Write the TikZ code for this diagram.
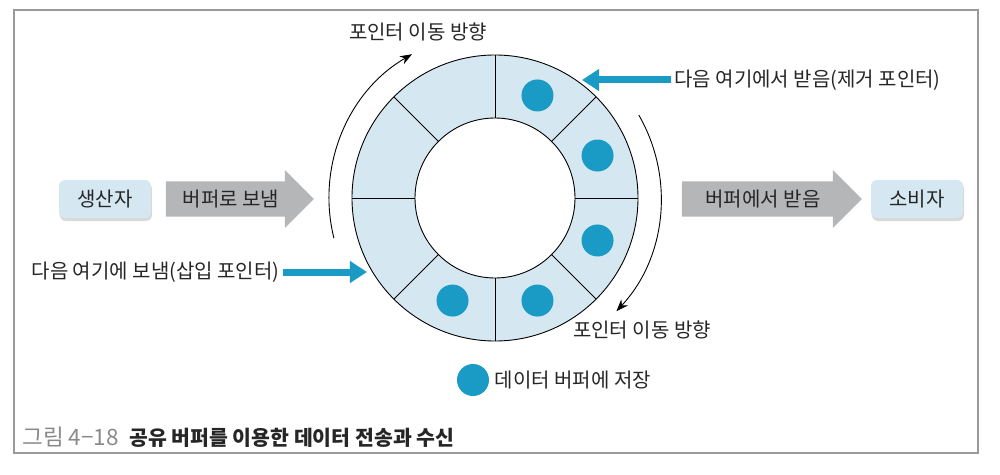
\documentclass[tikz,border=0pt]{standalone}
\usepackage{fontspec}
\setmainfont{Noto Sans CJK KR}
\usetikzlibrary{arrows.meta,shapes.arrows,shadows,positioning}

\definecolor{ringBlue}{HTML}{D5E7F1}
\definecolor{dotBlue}{HTML}{1A9BC5}
\definecolor{arrowGray}{HTML}{B5B6B8}
\definecolor{frameGray}{HTML}{9A9A9A}
\definecolor{capGray}{HTML}{8A8A8A}
\definecolor{textDark}{HTML}{262626}

\begin{document}
\begin{tikzpicture}[x=1pt, y=1pt,
    lbl/.style={text=textDark, font=\fontsize{20}{22}\selectfont},
    party/.style={lbl, rounded corners=6pt, fill=ringBlue, minimum width=92pt, minimum height=38pt,
                  drop shadow={opacity=0.3, shadow xshift=1pt, shadow yshift=-3pt}},
    flow/.style={lbl, single arrow, fill=arrowGray, minimum width=58pt,
                 single arrow head extend=8pt, single arrow head indent=0pt},
    datadot/.style={circle, fill=dotBlue, minimum size=32pt, inner sep=0pt},
    pointer/.style={draw=dotBlue, line width=7pt, -{Triangle[length=17pt,width=21pt]}},
    turn/.style={draw=black, line width=0.9pt, -{Stealth[length=12pt,width=9pt]}}
]

  % Define variables for better adjustability
  \def\outerR{143}   % outer radius of the ring buffer
  \def\innerR{80}    % inner radius of the ring buffer
  \def\midR{111}     % radius where the stored data sit
  \def\arcR{166}     % radius of the direction arcs

  \useasboundingbox (-495,-276) rectangle (505,198);
  \draw[frameGray, line width=1.2pt] (-481,188) rectangle (483,-255);

  % Ring buffer (8 slots)
  \coordinate (C) at (0,0);
  \fill[ringBlue, even odd rule] (C) circle (\outerR) (C) circle (\innerR);
  \draw[line width=0.9pt] (C) circle (\outerR) (C) circle (\innerR);
  \foreach \a in {0,45,...,315}
    \draw[line width=0.9pt] (\a:\innerR) -- (\a:\outerR);

  % Filled slots
  \foreach \a [count=\i] in {67.5,22.5,-22.5,-67.5,-112.5}
    \node[datadot] (d\i) at (\a:\midR) {};

  % Pointer direction arcs
  \draw[turn] (194:\arcR) arc[start angle=194, end angle=120, radius=\arcR];
  \draw[turn] (30:\arcR) arc[start angle=30, end angle=-43, radius=\arcR];
  \node[lbl] (dirTop) at (-77,166) {포인터 이동 방향};
  \node[lbl] (dirBot) at (147,-132) {포인터 이동 방향};

  % Producer and consumer
  \node[party] (prod) at (-390,-1) {생산자};
  \node[party] (cons) at (422,-1) {소비자};
  \node[flow, minimum height=148pt] (send) at (-264,-1) {버퍼로 보냄};
  \node[flow, minimum height=180pt] (recv) at (268,-1) {버퍼에서 받음};

  % Insert and remove pointers
  \node[lbl, anchor=east] (insLbl) at (-212,-74) {다음 여기에 보냄(삽입 포인터)};
  \coordinate (insTip) at (-128,-74);
  \draw[pointer] (insLbl) -- (insTip);

  \node[lbl, anchor=west] (remLbl) at (176,118) {다음 여기에서 받음(제거 포인터)};
  \coordinate (remTip) at (87,118);
  \draw[pointer] (remLbl) -- (remTip);

  % Legend
  \node[datadot] (legDot) at (-22,-182) {};
  \node[lbl, right=2pt of legDot] (legLbl) {데이터 버퍼에 저장};

  % Caption
  \node[anchor=west, font=\fontsize{20.5}{23}\selectfont] (cap) at (-476,-239)
    {\textcolor{capGray}{\fontsize{22.5}{23}\selectfont 그림 4−18}\hspace{0.5em}\textcolor{textDark}{\bfseries 공유 버퍼를 이용한 데이터 전송과 수신}};

\end{tikzpicture}
\end{document}
